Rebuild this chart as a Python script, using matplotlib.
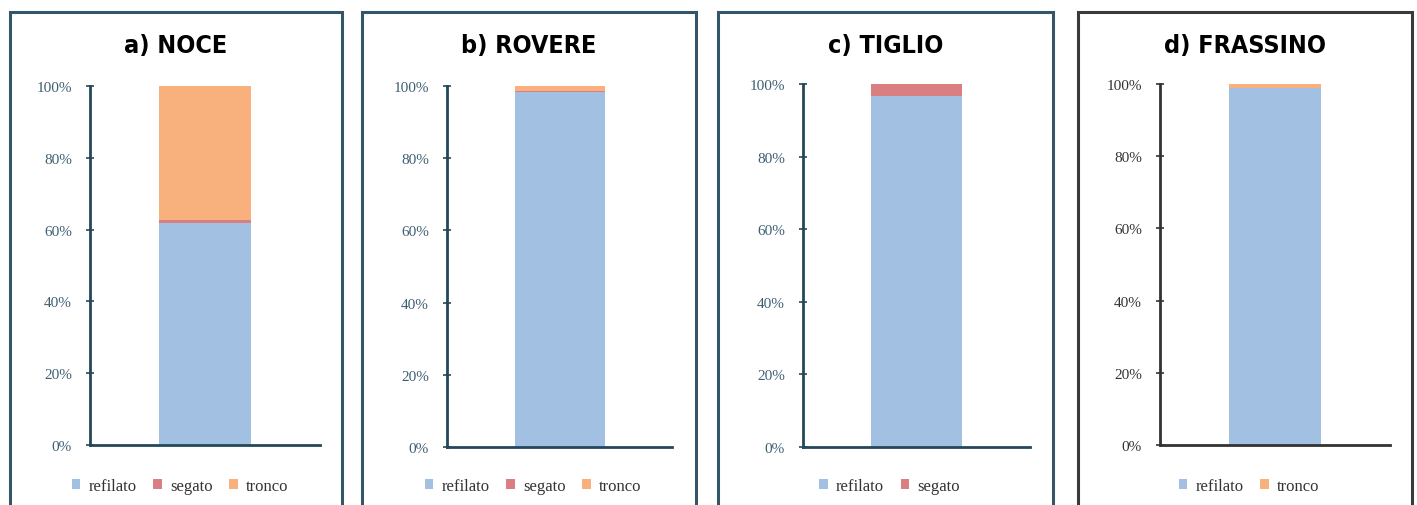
import numpy as np
import matplotlib.pyplot as plt
from matplotlib.patches import Rectangle
from matplotlib.ticker import PercentFormatter

W, H = 1417, 506

titles = ['a) NOCE', 'b) ROVERE', 'c) TIGLIO', 'd) FRASSINO']
refilato = [61.8, 98.2, 96.7, 98.8]
segato = [0.8, 0.5, 3.3, 0.0]
tronco = [37.4, 1.3, 0.0, 1.2]
legend_items = [['refilato', 'segato', 'tronco'],
                ['refilato', 'segato', 'tronco'],
                ['refilato', 'segato'],
                ['refilato', 'tronco']]

colors = {'refilato': '#A2C0E1', 'segato': '#D97F82', 'tronco': '#F8B07D'}

# panel frames (pixels: left, right) and axes (left, right, top, bottom)
frames = [(10, 342), (362, 696), (718, 1053), (1078, 1412)]
axbox = [(90, 320, 87, 446), (447, 672, 87, 448), (803, 1030, 85, 448), (1160, 1390, 85, 446)]
spine_col = ['#24485A', '#24485A', '#24485A', '#333333']
frame_col = ['#35566A', '#35566A', '#35566A', '#3A3A3A']
tick_col = ['#3E5F73', '#3E5F73', '#3E5F73', '#333333']

fig = plt.figure(figsize=(W / 100, H / 100), dpi=100)
fig.patch.set_facecolor('white')

for i in range(4):
    fl, fr = frames[i]
    fig.patches.append(Rectangle((fl / W, -0.05), (fr - fl) / W, (H - 13) / H + 0.05,
                                 transform=fig.transFigure, fill=False,
                                 edgecolor=frame_col[i], linewidth=2.2))
    fig.text((fl + fr) / 2 / W, 1 - 46 / H, titles[i], ha='center', va='center',
             fontsize=18, fontweight='bold', fontstretch='condensed',
             family=['DejaVu Sans'])

    l, r, t, b = axbox[i]
    ax = fig.add_axes([l / W, 1 - b / H, (r - l) / W, (b - t) / H])
    vals = {'refilato': refilato[i], 'segato': segato[i], 'tronco': tronco[i]}
    bottom = 0
    handles = []
    for name in ['refilato', 'segato', 'tronco']:
        h = ax.bar(0, vals[name], bottom=bottom, width=0.8, color=colors[name], label=name)
        bottom += vals[name]
        if name in legend_items[i]:
            handles.append(h)
    ax.set_xlim(-1, 1)
    ax.set_ylim(0, 100)
    ax.set_yticks(np.arange(0, 101, 20))
    ax.yaxis.set_major_formatter(PercentFormatter(decimals=0))
    ax.set_xticks([])
    for s in ['top', 'right']:
        ax.spines[s].set_visible(False)
    for s in ['left', 'bottom']:
        ax.spines[s].set_color(spine_col[i])
        ax.spines[s].set_linewidth(2)
    ax.tick_params(axis='y', direction='inout', length=6, width=1.2, color=spine_col[i],
                   labelcolor=tick_col[i], labelsize=11, pad=10)
    for lab in ax.get_yticklabels():
        lab.set_family('Liberation Serif')
    ax.patch.set_alpha(0)

    leg = fig.legend(handles=handles, labels=legend_items[i], loc='center',
                     bbox_to_anchor=((fl + fr) / 2 / W + 0.003, 1 - 487 / H), ncol=len(handles),
                     frameon=False, handlelength=0.5, handleheight=0.5, handletextpad=0.5,
                     columnspacing=1.0, prop={'family': 'Liberation Serif', 'size': 12})
    for txt in leg.get_texts():
        txt.set_color('#333333')

fig.savefig('out.png', dpi=100)
